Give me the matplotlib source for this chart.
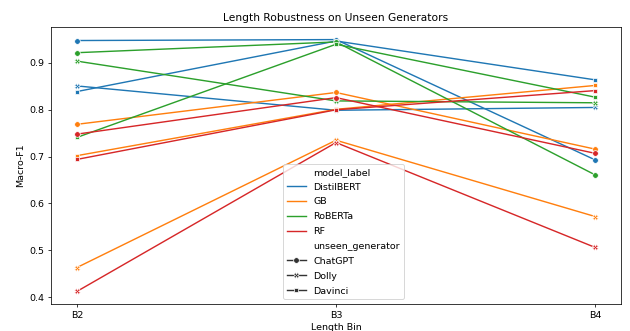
import matplotlib
matplotlib.use("Agg")
import matplotlib.pyplot as plt
import seaborn as sns
import pandas as pd

bins = ["B2", "B3", "B4"]
models = ["DistilBERT", "GB", "RoBERTa", "RF"]
generators = ["ChatGPT", "Dolly", "Davinci"]

# values per (model, generator) across bins B2, B3, B4
distilbert_chatgpt = [0.948, 0.950, 0.693]
distilbert_dolly = [0.851, 0.799, 0.805]
distilbert_davinci = [0.839, 0.947, 0.864]
gb_chatgpt = [0.769, 0.837, 0.716]
gb_dolly = [0.463, 0.735, 0.572]
gb_davinci = [0.702, 0.801, 0.852]
roberta_chatgpt = [0.922, 0.945, 0.661]
roberta_dolly = [0.904, 0.819, 0.815]
roberta_davinci = [0.741, 0.940, 0.827]
rf_chatgpt = [0.748, 0.826, 0.707]
rf_dolly = [0.412, 0.730, 0.506]
rf_davinci = [0.694, 0.800, 0.841]

series = {
    ("DistilBERT", "ChatGPT"): distilbert_chatgpt,
    ("DistilBERT", "Dolly"): distilbert_dolly,
    ("DistilBERT", "Davinci"): distilbert_davinci,
    ("GB", "ChatGPT"): gb_chatgpt,
    ("GB", "Dolly"): gb_dolly,
    ("GB", "Davinci"): gb_davinci,
    ("RoBERTa", "ChatGPT"): roberta_chatgpt,
    ("RoBERTa", "Dolly"): roberta_dolly,
    ("RoBERTa", "Davinci"): roberta_davinci,
    ("RF", "ChatGPT"): rf_chatgpt,
    ("RF", "Dolly"): rf_dolly,
    ("RF", "Davinci"): rf_davinci,
}

rows = []
for (m, g), vals in series.items():
    for b, v in zip(bins, vals):
        rows.append({"length_bin": b, "model_label": m, "unseen_generator": g, "macro_f1": v})
df = pd.DataFrame(rows)

DPI = 68
W, H = 630, 331
fig = plt.figure(figsize=(W / DPI, H / DPI), dpi=DPI)
ax = fig.add_axes([51 / W, (H - 304) / H, (621 - 51) / W, (304 - 27) / H])
sns.lineplot(data=df, x="length_bin", y="macro_f1", hue="model_label",
             style="unseen_generator", hue_order=models, style_order=generators,
             markers=True, dashes=False, ax=ax)
ax.set_title("Length Robustness on Unseen Generators", fontsize=11.3)
ax.set_xlabel("Length Bin")
ax.set_ylabel("Macro-F1")
ax.legend(loc="lower center", bbox_to_anchor=(0.513, 0.0), labelspacing=0.62)
fig.savefig("out.png", dpi=DPI)
